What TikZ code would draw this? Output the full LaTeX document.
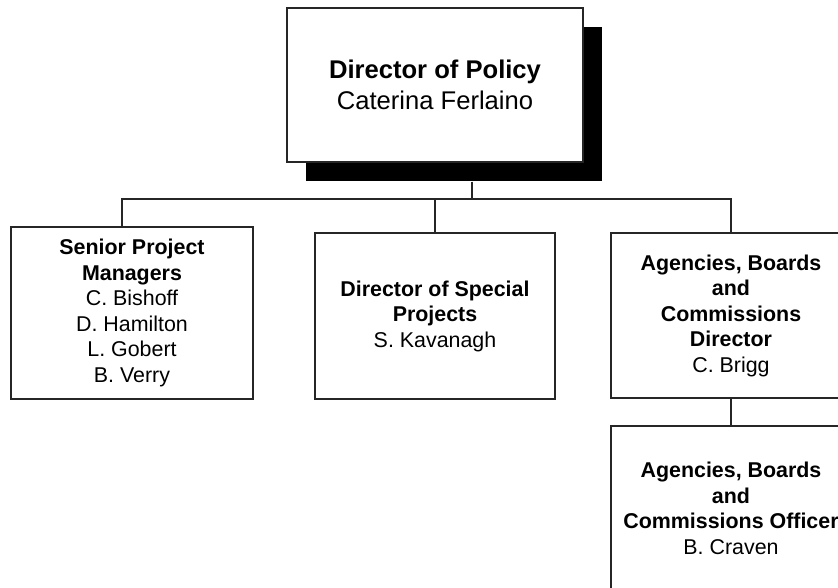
\documentclass[tikz,border=0pt]{standalone}
\usepackage{fontspec}
\setmainfont{Liberation Sans}
\begin{document}
\begin{tikzpicture}[x=1pt,y=-1pt,
  line width=1.3pt,
  orgline/.style={draw=black!85, line width=1.3pt},
  orgbox/.style={orgline, fill=white, rectangle, inner sep=0pt, align=center,
    font=\fontsize{21.4}{25.5}\selectfont},
  headbox/.style={orgbox, font=\fontsize{25.6}{30.5}\selectfont},
  shadowbox/.style={rectangle, fill=black, inner sep=0pt}]
  \clip (0,0) rectangle (838,588);
  \fill[white] (0,0) rectangle (838,588);

  % head of the department, with its solid drop shadow
  \node[shadowbox, minimum width=296pt, minimum height=154pt] (topshadow) at (454,104) {};
  \node[headbox, minimum width=296pt, minimum height=154pt] (top) at (435,85)
    {\textbf{Director of Policy}\\Caterina Ferlaino};

  % second level
  \node[orgbox, minimum width=242pt, minimum height=172pt] (spm) at (132,313)
    {\textbf{Senior Project}\\\textbf{Managers}\\C. Bishoff\\D. Hamilton\\L. Gobert\\B. Verry};
  \node[orgbox, minimum width=240pt, minimum height=166pt] (dsp) at (435,316)
    {\textbf{Director of Special}\\\textbf{Projects}\\S. Kavanagh};
  \node[orgbox, minimum width=240pt, minimum height=165pt] (abcd) at (731,315.5)
    {\textbf{Agencies, Boards}\\\textbf{and}\\\textbf{Commissions}\\\textbf{Director}\\C. Brigg};

  % third level
  \node[orgbox, minimum width=240pt, minimum height=165pt] (abco) at (731,508.5)
    {\textbf{Agencies, Boards}\\\textbf{and}\\\textbf{Commissions Officer}\\B. Craven};

  % reporting lines
  \coordinate (bus) at (731,199);
  \draw[orgline] ([xshift=18pt]topshadow.south) -- ([xshift=18pt]topshadow.south |- bus);
  \draw[orgline] ([xshift=-10pt]spm.north) |- (bus) -- (abcd.north);
  \draw[orgline] (dsp.north) -- (dsp.north |- bus);
  \draw[orgline] (abcd.south) -- (abco.north);
\end{tikzpicture}
\end{document}
